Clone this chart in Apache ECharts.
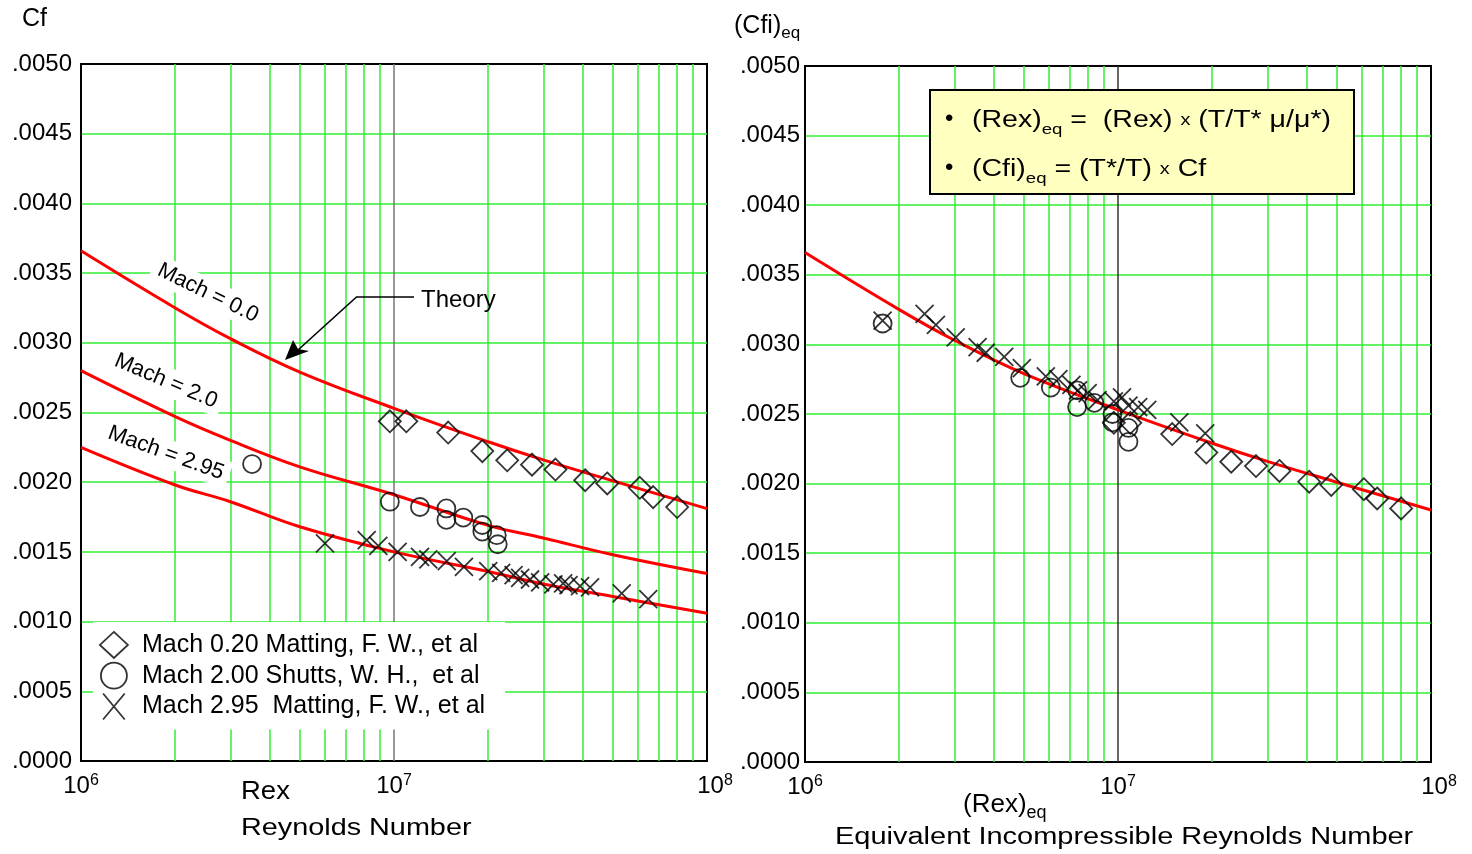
<!DOCTYPE html>
<html><head><meta charset="utf-8">
<script src="https://cdn.jsdelivr.net/npm/echarts@6/dist/echarts.min.js"></script>
<style>html,body{margin:0;padding:0;background:#fff}#c{width:1472px;height:854px}</style>
</head><body><div id="c"></div>
<script>
// ---------- data ----------
const xDecades = [6, 7, 8];
const gridMinorX = [2e6, 3e6, 4e6, 5e6, 6e6, 7e6, 8e6, 9e6, 2e7, 3e7, 4e7, 5e7, 6e7, 7e7, 8e7, 9e7];
const gridMajorX = [1e7];

const theoryMach00 = [[1e6,0.00366],[2e6,0.00325],[3e6,0.00303],[5e6,0.00279],[1e7,0.00253],[2e7,0.00229],[3e7,0.00216],[5e7,0.00201],[1e8,0.00181]];
const theoryMach20 = [[1e6,0.0028],[2e6,0.00247],[3e6,0.0023],[5e6,0.00211],[1e7,0.00191],[2e7,0.00169],[3e7,0.0016],[5e7,0.00148],[1e8,0.001345]];
const theoryMach295 = [[1e6,0.00225],[2e6,0.00198],[3e6,0.00186],[5e6,0.00168],[1e7,0.0015],[2e7,0.00136],[3e7,0.00127],[5e7,0.00118],[1e8,0.00106]];

const dataMach020 = [[9.7e6,0.002437],[1.095e7,0.002437],[1.49e7,0.002356],[1.915e7,0.002223],[2.3e7,0.002157],[2.76e7,0.002126],[3.28e7,0.002091],[4.08e7,0.002014],[4.8e7,0.001991],[6.1e7,0.00196],[6.73e7,0.001893],[8.03e7,0.001822]];
const dataMach200 = [[3.52e6,0.00213],[9.7e6,0.00186],[1.21e7,0.001822],[1.47e7,0.001812],[1.47e7,0.00173],[1.665e7,0.001746],[1.915e7,0.001693],[1.915e7,0.001646],[2.13e7,0.00162],[2.145e7,0.001555]];
const dataMach295 = [[6.02e6,0.001561],[8.18e6,0.001584],[8.91e6,0.001543],[1.027e7,0.0015],[1.211e7,0.001465],[1.287e7,0.001446],[1.474e7,0.001434],[1.673e7,0.001393],[2.0e7,0.001362],[2.2e7,0.00135],[2.41e7,0.001333],[2.53e7,0.001314],[2.72e7,0.001302],[2.93e7,0.001281],[3.23e7,0.001267],[3.47e7,0.001274],[3.61e7,0.001262],[3.93e7,0.001254],[4.23e7,0.001245],[5.34e7,0.001202],[6.49e7,0.001161]];

const eqMach200 = [[1.77e6,0.00315],[4.87e6,0.00276],[6.1e6,0.00269],[7.4e6,0.00267],[7.4e6,0.00255],[8.4e6,0.00258],[9.6e6,0.0025],[9.6e6,0.00244],[1.08e7,0.0024],[1.08e7,0.0023]];
const eqMach295 = [[1.77e6,0.00317],[2.41e6,0.00322],[2.62e6,0.00314],[3.03e6,0.00305],[3.56e6,0.00298],[3.78e6,0.00294],[4.33e6,0.00291],[4.93e6,0.00283],[5.88e6,0.00277],[6.45e6,0.00275],[7.1e6,0.00271],[7.45e6,0.00267],[8.0e6,0.00265],[8.6e6,0.0026],[9.7e6,0.00259],[1.03e7,0.00262],[1.08e7,0.00256],[1.16e7,0.00255],[1.24e7,0.00253],[1.57e7,0.00244],[1.9e7,0.00236]];

const legendNames = ['Mach 0.20 Matting, F. W., et al', 'Mach 2.00 Shutts, W. H.,  et al', 'Mach 2.95  Matting, F. W., et al'];
const curveLabels = ['Mach = 0.0', 'Mach = 2.0', 'Mach = 2.95'];

// ---------- styling ----------
const FONT = '"Liberation Sans", Arial, Helvetica, sans-serif';
const GREEN = '#33ee33';
const CROSS = 'path://M0,0L10,12M10,0L0,12';
const hollow = {color: 'rgba(0,0,0,0)', borderColor: '#000', borderWidth: 1.8};

const chart = echarts.init(document.getElementById('c'), null, {renderer: 'canvas', width: 1472, height: 854});

function xAxisCfg(gi) {
  return {
    type: 'log', logBase: 10, gridIndex: gi, min: 1e6, max: 1e8, splitNumber: 2,
    axisLine: {show: true, lineStyle: {color: '#000', width: 2}},
    axisTick: {show: false}, splitLine: {show: false}, minorTick: {show: false},
    axisLabel: {
      margin: 12, color: '#000',
      formatter: v => { const e = Math.round(Math.log10(v)); return (e === xDecades[2] ? '{p|}' : '') + '{b|10}{s|' + e + '}'; },
      rich: {
        b: {fontSize: 24, fontFamily: FONT, color: '#000', lineHeight: 27},
        s: {fontSize: 16, fontFamily: FONT, color: '#000', verticalAlign: 'top', lineHeight: 16},
        p: {width: 16}
      }
    }
  };
}
function yAxisCfg(gi, margin) {
  return {
    type: 'value', gridIndex: gi, min: 0, max: 0.005, interval: 0.0005,
    axisLine: {show: true, lineStyle: {color: '#000', width: 2}},
    axisTick: {show: false},
    splitLine: {show: true, showMinLine: false, showMaxLine: false, lineStyle: {color: GREEN, width: 1.5}},
    axisLabel: {margin, color: '#000', fontSize: 24, fontFamily: FONT, formatter: v => v.toFixed(4).replace(/^0/, '')}
  };
}
function gridMarks(majorColor) {
  return {
    silent: true, symbol: 'none', z: 1, animation: false,
    label: {show: false}, emphasis: {disabled: true},
    lineStyle: {color: GREEN, width: 1.5, type: 'solid'},
    data: gridMinorX.map(v => ({xAxis: v})).concat(gridMajorX.map(v => ({xAxis: v, lineStyle: {color: majorColor, width: 1.5, type: 'solid'}})))
  };
}
function curve(name, data, gi, marks) {
  const s = {name, type: 'line', xAxisIndex: gi, yAxisIndex: gi, data, symbol: 'none', smooth: 0.4, z: 2,
    lineStyle: {color: '#ff0000', width: 3}, silent: true};
  if (marks) s.markLine = marks;
  return s;
}
function pts(name, data, gi, symbol, size) {
  return {name, type: 'scatter', xAxisIndex: gi, yAxisIndex: gi, data, symbol, symbolSize: size, z: 3,
    itemStyle: hollow, silent: true};
}

function rot(deg) { return -deg * Math.PI / 180; }
const labelStyle = {fontSize: 22, fontFamily: FONT, fill: '#000', align: 'center', verticalAlign: 'middle', backgroundColor: '#fff', padding: [3, 6]};

const option = {
  animation: false,
  backgroundColor: '#fff',
  grid: [
    {left: 81, top: 64, width: 626, height: 697, show: true, borderColor: '#000', borderWidth: 2, backgroundColor: 'rgba(0,0,0,0)'},
    {left: 805, top: 66, width: 626, height: 696, show: true, borderColor: '#000', borderWidth: 2, backgroundColor: 'rgba(0,0,0,0)'}
  ],
  xAxis: [xAxisCfg(0), xAxisCfg(1)],
  yAxis: [yAxisCfg(0, 9), yAxisCfg(1, 5)],
  legend: {
    orient: 'vertical', left: 93, top: 622, padding: [9, 20, 9, 6], itemGap: 3,
    itemWidth: 28, itemHeight: 26, backgroundColor: '#fff', selectedMode: false,
    textStyle: {fontSize: 25, fontFamily: FONT, color: '#000', padding: [0, 0, 0, 9]},
    data: [
      {name: legendNames[0], icon: 'diamond', itemStyle: hollow},
      {name: legendNames[1], icon: 'circle', itemStyle: hollow},
      {name: legendNames[2], icon: CROSS, itemStyle: hollow}
    ]
  },
  series: [
    curve(curveLabels[0], theoryMach00, 0, gridMarks('#777777')),
    curve(curveLabels[1], theoryMach20, 0),
    curve(curveLabels[2], theoryMach295, 0),
    pts(legendNames[0], dataMach020, 0, 'diamond', 22),
    pts(legendNames[1], dataMach200, 0, 'circle', 18),
    pts(legendNames[2], dataMach295, 0, CROSS, [18, 18]),
    curve('Theory (eq)', theoryMach00, 1, gridMarks('#333333')),
    pts('Mach 0.20 (eq)', dataMach020, 1, 'diamond', 22),
    pts('Mach 2.00 (eq)', eqMach200, 1, 'circle', 18),
    pts('Mach 2.95 (eq)', eqMach295, 1, CROSS, [18, 18])
  ],
  graphic: [
    {type: 'text', x: 22, y: 19, z: 10, style: {text: 'Cf', fontSize: 25, fontFamily: FONT, fill: '#000', align: 'left', verticalAlign: 'middle'}},
    {type: 'text', x: 734, y: 26, z: 10, style: {text: '{n|(Cfi)}{sub|eq}', align: 'left', verticalAlign: 'middle',
      rich: {n: {fontSize: 25, fontFamily: FONT, fill: '#000', lineHeight: 32}, sub: {fontSize: 17, fontFamily: FONT, fill: '#000', verticalAlign: 'bottom', lineHeight: 17}}}},
    // curve labels
    {type: 'text', x: 208, y: 293, rotation: rot(26), z: 1.5, style: Object.assign({text: curveLabels[0]}, labelStyle)},
    {type: 'text', x: 166, y: 381, rotation: rot(23), z: 1.5, style: Object.assign({text: curveLabels[1]}, labelStyle)},
    {type: 'text', x: 166, y: 453, rotation: rot(20), z: 1.5, style: Object.assign({text: curveLabels[2]}, labelStyle)},
    // Theory arrow
    {type: 'polyline', z: 4, shape: {points: [[414, 297], [356.5, 297], [298, 350]]}, style: {stroke: '#000', lineWidth: 1.6, fill: null}},
    {type: 'polygon', z: 4, shape: {points: [[285, 360], [293, 340], [298, 349], [309, 351]]}, style: {fill: '#000'}},
    {type: 'text', x: 421, y: 300, z: 4, style: {text: 'Theory', fontSize: 24, fontFamily: FONT, fill: '#000', align: 'left', verticalAlign: 'middle'}},
    // left axis titles
    {type: 'text', x: 241, y: 792, z: 10, scaleX: 1.1, style: {text: 'Rex', fontSize: 25, fontFamily: FONT, fill: '#000', align: 'left', verticalAlign: 'middle'}},
    {type: 'text', x: 241, y: 828, z: 10, scaleX: 1.2, style: {text: 'Reynolds Number', fontSize: 24, fontFamily: FONT, fill: '#000', align: 'left', verticalAlign: 'middle'}},
    // right axis titles
    {type: 'text', x: 963, y: 805, z: 10, style: {text: '{n|(Rex)}{sub|eq}', align: 'left', verticalAlign: 'middle',
      rich: {n: {fontSize: 26, fontFamily: FONT, fill: '#000', lineHeight: 34}, sub: {fontSize: 18, fontFamily: FONT, fill: '#000', verticalAlign: 'bottom', lineHeight: 18}}}},
    {type: 'text', x: 835, y: 838, z: 10, scaleX: 1.26, style: {text: 'Equivalent Incompressible Reynolds Number', fontSize: 23, fontFamily: FONT, fill: '#000', align: 'left', verticalAlign: 'middle'}},
    // formula box
    {type: 'rect', z: 6, shape: {x: 930, y: 90, width: 424, height: 104}, style: {fill: '#ffffc0', stroke: '#000', lineWidth: 2}},
    {type: 'text', x: 945, y: 119, z: 7, style: {text: '•', fontSize: 24, fontFamily: FONT, fill: '#000', align: 'left', verticalAlign: 'middle'}},
    {type: 'text', x: 945, y: 168, z: 7, style: {text: '•', fontSize: 24, fontFamily: FONT, fill: '#000', align: 'left', verticalAlign: 'middle'}},
    {type: 'text', x: 972, y: 121, z: 7, scaleX: 1.24, style: {text: '{n|(Rex)}{sub|eq}{n| =  (Rex) }{x|x}{n| (T/T* μ/μ*)}', align: 'left', verticalAlign: 'middle',
      rich: {n: {fontSize: 23, fontFamily: FONT, fill: '#000', lineHeight: 32}, sub: {fontSize: 15, fontFamily: FONT, fill: '#000', verticalAlign: 'bottom', lineHeight: 15}, x: {fontSize: 16, fontFamily: FONT, fill: '#000', lineHeight: 32}}}},
    {type: 'text', x: 972, y: 170, z: 7, scaleX: 1.24, style: {text: '{n|(Cfi)}{sub|eq}{n| = (T*/T) }{x|x}{n| Cf}', align: 'left', verticalAlign: 'middle',
      rich: {n: {fontSize: 23, fontFamily: FONT, fill: '#000', lineHeight: 32}, sub: {fontSize: 15, fontFamily: FONT, fill: '#000', verticalAlign: 'bottom', lineHeight: 15}, x: {fontSize: 16, fontFamily: FONT, fill: '#000', lineHeight: 32}}}}
  ]
};
chart.setOption(option);
</script>
</body></html>
